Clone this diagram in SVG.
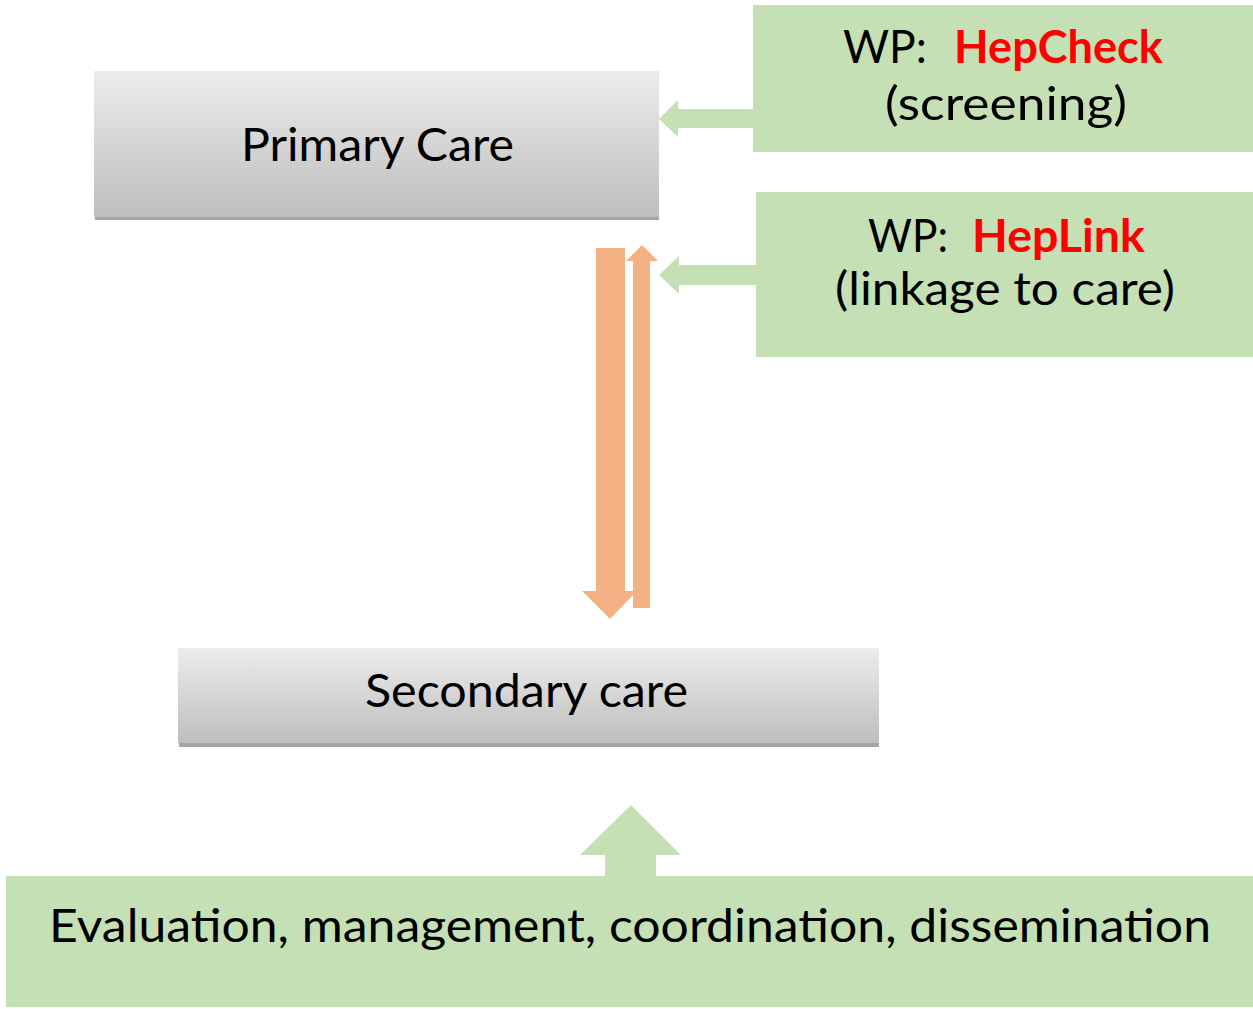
<svg xmlns="http://www.w3.org/2000/svg" width="1253" height="1009" viewBox="0 0 1253 1009">
<defs>
<linearGradient id="gray" x1="0" y1="0" x2="0" y2="1">
<stop offset="0" stop-color="#ECECEC"/>
<stop offset="1" stop-color="#BEBEBE"/>
</linearGradient>
</defs>
<style>
.box{fill:url(#gray)}
.shadow{fill:#A5A5A5}
.green{fill:#C5E0B4}
.orange{fill:#F4B183}
text{font-family:"Lato","Open Sans","Liberation Sans",sans-serif;fill:#000;font-size:46px}
.red{fill:#FF0000;font-weight:bold}
</style>
<rect width="1253" height="1009" fill="#FFFFFF"/>
<g id="primary-care">
<rect class="shadow" x="95" y="216" width="564" height="4"/>
<rect class="box" x="94" y="71" width="565" height="146"/>
<text x="241" y="161" textLength="273" lengthAdjust="spacingAndGlyphs">Primary Care</text>
</g>
<g id="secondary-care">
<rect class="shadow" x="179" y="742" width="700" height="5"/>
<rect class="box" x="178" y="648" width="701" height="95"/>
<text x="365" y="707" textLength="323" lengthAdjust="spacingAndGlyphs">Secondary care</text>
</g>
<g id="wp-hepcheck">
<rect class="green" x="753" y="5" width="500" height="147"/>
<text x="843" y="63" textLength="84" lengthAdjust="spacingAndGlyphs">WP:</text>
<text class="red" x="954" y="63" textLength="209" lengthAdjust="spacingAndGlyphs">HepCheck</text>
<text x="885" y="120" textLength="242" lengthAdjust="spacingAndGlyphs">(screening)</text>
</g>
<g id="wp-heplink">
<rect class="green" x="756" y="192" width="497" height="165"/>
<text x="868" y="252" textLength="80" lengthAdjust="spacingAndGlyphs">WP:</text>
<text class="red" x="972" y="252" textLength="173" lengthAdjust="spacingAndGlyphs">HepLink</text>
<text x="835" y="305" textLength="340" lengthAdjust="spacingAndGlyphs">(linkage to care)</text>
</g>
<g id="evaluation">
<rect class="green" x="6" y="876" width="1247" height="131"/>
<text x="49" y="942" textLength="1162" lengthAdjust="spacingAndGlyphs">Evaluation, management, coordination, dissemination</text>
</g>
<g id="connectors">
<polygon class="green" points="659,119 678,100 678,109 753,109 753,128 678,128 678,137"/>
<polygon class="green" points="659,275 679,256 679,265 756,265 756,285 679,285 679,294"/>
<polygon class="orange" points="596,248 625,248 625,591 637,591 610,619 582,591 596,591"/>
<polygon class="orange" points="642,245 658,261 650,261 650,608 633,608 633,261 626,261"/>
<polygon class="green" points="631,805 681,855 656,855 656,877 605,877 605,855 580,855"/>
</g>
</svg>
